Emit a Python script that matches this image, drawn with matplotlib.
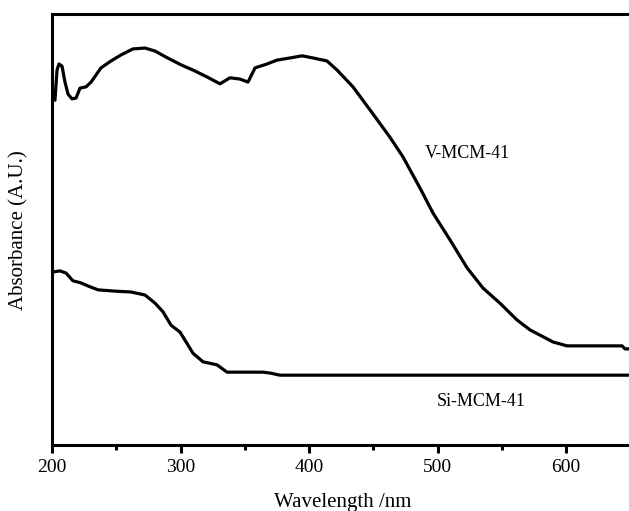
import matplotlib
matplotlib.use("Agg")
import matplotlib.pyplot as plt
from matplotlib.ticker import MultipleLocator

# Wavelength (nm) and absorbance (arbitrary units)
v_wl = [200.0, 202.3, 203.9, 205.4, 207.8, 210.1, 212.5, 215.6, 218.7, 221.8,
        226.5, 230.4, 238.1, 245.9, 253.7, 263.0, 272.4, 280.2, 288.7, 300.4,
        309.7, 320.6, 330.7, 338.5, 346.3, 352.5, 358.0, 367.3, 375.1, 385.2,
        394.6, 403.1, 414.0, 421.8, 434.2, 449.8, 463.0, 473.2, 486.4, 496.5,
        509.7, 523.0, 535.4, 548.6, 561.9, 572.0, 589.9, 600.8, 643.6, 645.9,
        649.0]
v_abs = [0.805, 0.800, 0.870, 0.884, 0.879, 0.842, 0.814, 0.803, 0.805, 0.828,
         0.831, 0.842, 0.875, 0.891, 0.905, 0.919, 0.921, 0.914, 0.900, 0.882,
         0.870, 0.854, 0.838, 0.852, 0.849, 0.842, 0.875, 0.884, 0.893, 0.898,
         0.903, 0.898, 0.891, 0.870, 0.831, 0.768, 0.714, 0.668, 0.596, 0.538,
         0.476, 0.411, 0.364, 0.329, 0.290, 0.267, 0.239, 0.230, 0.230, 0.223,
         0.223]

si_wl = [200.0, 206.2, 210.9, 216.3, 222.6, 228.0, 235.8, 249.0, 261.5, 272.4,
         280.2, 286.4, 292.6, 299.6, 305.8, 309.7, 317.5, 328.4, 336.2, 364.2,
         369.6, 377.4, 649.0]
si_abs = [0.401, 0.404, 0.399, 0.381, 0.376, 0.369, 0.360, 0.357, 0.355, 0.348,
          0.329, 0.309, 0.278, 0.262, 0.232, 0.213, 0.193, 0.186, 0.169, 0.169,
          0.167, 0.162, 0.162]

labels = ["V-MCM-41", "Si-MCM-41"]
label_pos = [(523.0, 0.677), (533.9, 0.102)]
xticks = [200, 300, 400, 500, 600]

plt.rcParams['font.family'] = ['Liberation Serif', 'DejaVu Serif']

fig = plt.figure(figsize=(6.29, 5.11), dpi=100)
ax = fig.add_axes([52/629, 66/511, 577/629, 431/511])

ax.plot(v_wl, v_abs, color='black', lw=2.3, solid_joinstyle='round')
ax.plot(si_wl, si_abs, color='black', lw=2.3, solid_joinstyle='round')

for lab, (x, y) in zip(labels, label_pos):
    ax.text(x, y, lab, fontsize=13, ha='center', va='center')

ax.set_xlim(200, 649)
ax.set_ylim(0, 1)
ax.set_xticks(xticks)
ax.xaxis.set_minor_locator(MultipleLocator(50))
ax.set_yticks([])

ax.spines['right'].set_visible(False)
for s in ['left', 'top', 'bottom']:
    ax.spines[s].set_linewidth(2.2)

ax.tick_params(axis='x', which='major', direction='out', length=6, width=2.2,
               labelsize=14, pad=4)
ax.tick_params(axis='x', which='minor', direction='out', length=3.6, width=2.2)

ax.set_xlabel("Wavelength /nm", fontsize=15)
ax.xaxis.label.set_va('center')
ax.xaxis.set_label_coords(291/577, (445-502)/431)

ax.set_ylabel("Absorbance (A.U.)", fontsize=15)
ax.yaxis.label.set_va('center')
ax.yaxis.set_label_coords((19-52)/577, (445-230)/431)

fig.savefig("out.png", dpi=100)
